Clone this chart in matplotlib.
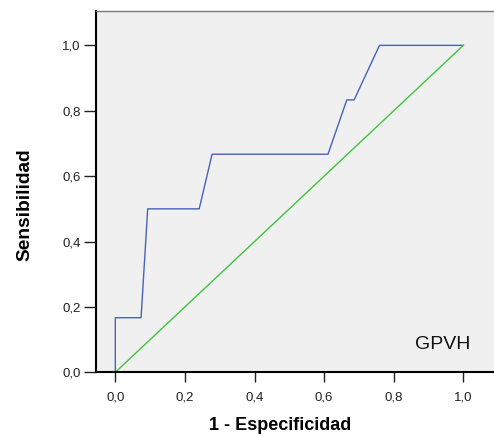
import matplotlib
matplotlib.use("Agg")
import matplotlib.pyplot as plt

plt.rcParams['font.family'] = ['Liberation Sans', 'DejaVu Sans']

# ROC curve points (1 - specificity, sensitivity)
fpr = [0.0, 0.0, 0.074, 0.093, 0.241, 0.278, 0.611, 0.665, 0.686, 0.759, 1.0]
tpr = [0.0, 0.167, 0.167, 0.5, 0.5, 0.667, 0.667, 0.833, 0.833, 1.0, 1.0]
ref_x = [0.0, 1.0]
ref_y = [0.0, 1.0]
ticks = [0.0, 0.2, 0.4, 0.6, 0.8, 1.0]
tick_labels = ["0,0", "0,2", "0,4", "0,6", "0,8", "1,0"]

W, H = 494, 436
fig = plt.figure(figsize=(W / 100, H / 100), dpi=100)
ax = fig.add_axes([96 / W, (H - 372.3) / H, (494 - 96) / W, (372.3 - 10.7) / H])
ax.set_facecolor("#f0f0f0")

ax.plot(fpr, tpr, color="#4563bd", lw=1.0)
ax.plot(ref_x, ref_y, color="#3ec43e", lw=1.0)

ax.set_xlim(-0.0555, 1.088)
ax.set_ylim(0, 1.106)
ax.set_xticks(ticks)
ax.set_xticklabels(tick_labels)
ax.set_yticks(ticks)
ax.set_yticklabels(tick_labels)
ax.tick_params(axis='x', direction='out', length=7, width=1, labelsize=9.5, pad=7, colors='#222222')
ax.tick_params(axis='y', direction='out', length=9, width=1, labelsize=9.5, pad=2, colors='#222222')

for s in ['left', 'bottom']:
    ax.spines[s].set_linewidth(1.5)
    ax.spines[s].set_color('black')
ax.spines['top'].set_color('#7a7a7a')
ax.spines['top'].set_linewidth(1.0)
ax.spines['right'].set_visible(False)

ax.text(443 / W, (H - 344.5) / H, "GPVH", transform=fig.transFigure, fontsize=14,
        ha='center', va='center', color='#111111')

fig.text(280 / W, (H - 425.3) / H, "1 - Especificidad", fontsize=13, fontweight='bold',
         ha='center', va='center')
fig.text(24.5 / W, (H - 205) / H, "Sensibilidad", fontsize=13.8, fontweight='bold',
         ha='center', va='center', rotation=90)

fig.savefig("out.png", dpi=100)
